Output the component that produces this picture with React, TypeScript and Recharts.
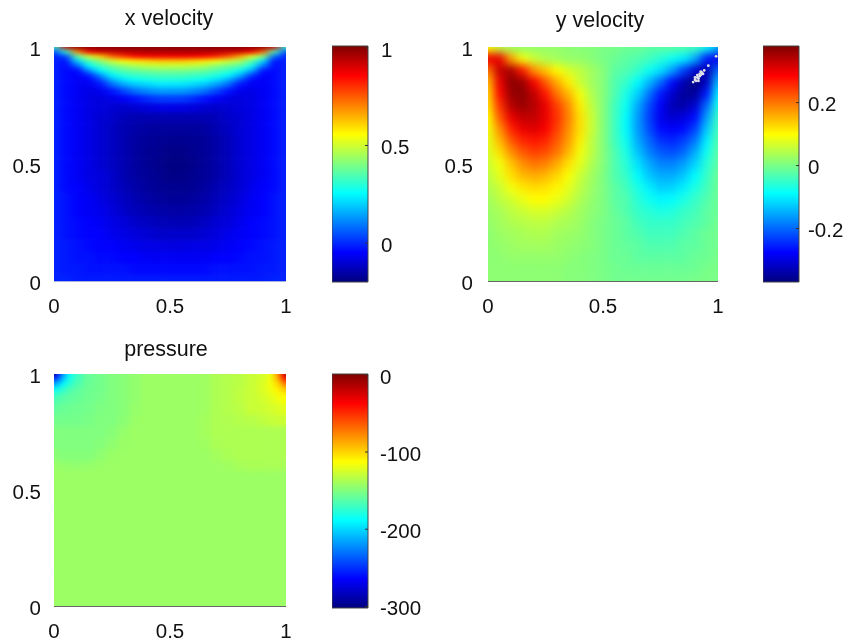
import React from 'react';
import { ScatterChart, Scatter, BarChart, Bar, XAxis, YAxis } from 'recharts';

const FONT = '"Liberation Sans", Arial, sans-serif';

const jetStops: [number, number[]][] = [
  [0, [0, 0, 127]],
  [0.125, [0, 0, 255]],
  [0.375, [0, 255, 255]],
  [0.625, [255, 255, 0]],
  [0.875, [255, 0, 0]],
  [1, [127, 0, 0]],
];

const xVelXs = [0, .05, .1, .15, .2, .25, .3, .35, .4, .45, .5, .55, .6, .65, .7, .75, .8, .85, .9, .95, 1];
const xVelYs = [1, .98, .96, .94, .92, .9, .88, .86, .84, .81, .78, .74, .7, .65, .6, .55, .5, .45, .4, .35, .3, .25, .2, .15, .1, .05, 0];
const xVelRows = [
  [.3, .9, 1, 1, 1, 1, 1, 1, 1, 1, 1, 1, 1, 1, 1, 1, 1, 1, 1, .9, .3],
  [.05, .3, .7, .87, .92, .93, .94, .95, .95, .95, .95, .95, .95, .95, .94, .93, .92, .87, .75, .35, .05],
  [-.01, .03, .36, .5, .62, .74, .8, .85, .87, .87, .87, .87, .87, .85, .82, .76, .67, .52, .42, .08, -.01],
  [-.01, -.03, .2, .34, .42, .5, .55, .58, .6, .62, .62, .62, .6, .58, .54, .5, .46, .36, .22, -.03, -.01],
  [-.01, -.04, .06, .25, .33, .39, .43, .46, .48, .49, .49, .49, .48, .46, .42, .39, .36, .28, .1, -.04, -.01],
  [-.01, -.04, -.04, .12, .25, .32, .36, .38, .39, .4, .4, .4, .39, .38, .35, .32, .27, .17, -.02, -.04, -.01],
  [-.01, -.04, -.05, -.01, .13, .25, .3, .32, .33, .34, .34, .34, .33, .32, .29, .25, .17, .03, -.05, -.04, -.01],
  [-.01, -.04, -.06, -.05, .03, .16, .23, .26, .28, .29, .29, .29, .28, .26, .22, .16, .06, -.04, -.06, -.04, -.01],
  [-.01, -.04, -.06, -.07, -.03, .07, .14, .18, .2, .22, .22, .22, .2, .18, .13, .07, -.03, -.06, -.06, -.04, -.01],
  [-.01, -.04, -.06, -.08, -.07, -.03, .03, .08, .11, .13, .13, .13, .11, .08, .03, -.03, -.07, -.08, -.06, -.04, -.01],
  [-.01, -.04, -.06, -.08, -.09, -.08, -.06, -.03, 0, .02, .02, .02, 0, -.03, -.06, -.08, -.09, -.08, -.06, -.04, -.01],
  [-.01, -.04, -.06, -.08, -.09, -.1, -.11, -.1, -.09, -.08, -.08, -.08, -.09, -.1, -.11, -.1, -.09, -.08, -.06, -.04, -.01],
  [-.01, -.04, -.06, -.08, -.1, -.11, -.13, -.14, -.14, -.14, -.14, -.14, -.14, -.14, -.13, -.11, -.1, -.08, -.06, -.04, -.01],
  [-.01, -.04, -.06, -.08, -.1, -.12, -.14, -.15, -.16, -.165, -.165, -.165, -.165, -.16, -.14, -.12, -.1, -.08, -.06, -.04, -.01],
  [-.01, -.04, -.06, -.08, -.1, -.12, -.14, -.16, -.17, -.175, -.18, -.18, -.175, -.17, -.15, -.13, -.1, -.08, -.06, -.04, -.01],
  [-.01, -.04, -.06, -.08, -.1, -.12, -.14, -.16, -.175, -.18, -.19, -.19, -.18, -.17, -.15, -.13, -.1, -.08, -.06, -.04, -.01],
  [-.01, -.04, -.06, -.08, -.1, -.12, -.14, -.16, -.175, -.185, -.195, -.195, -.185, -.17, -.15, -.13, -.1, -.08, -.06, -.04, -.01],
  [-.01, -.04, -.06, -.08, -.09, -.11, -.14, -.16, -.17, -.18, -.19, -.19, -.18, -.17, -.15, -.13, -.1, -.08, -.06, -.04, -.01],
  [-.01, -.04, -.05, -.07, -.09, -.11, -.13, -.15, -.165, -.175, -.18, -.18, -.175, -.16, -.14, -.12, -.1, -.07, -.05, -.04, -.01],
  [-.01, -.03, -.05, -.06, -.08, -.1, -.12, -.14, -.155, -.165, -.17, -.17, -.165, -.15, -.13, -.11, -.09, -.06, -.05, -.03, -.01],
  [-.01, -.03, -.05, -.06, -.07, -.09, -.11, -.13, -.14, -.15, -.155, -.155, -.15, -.14, -.12, -.1, -.08, -.06, -.05, -.03, -.01],
  [-.01, -.03, -.04, -.05, -.06, -.08, -.09, -.11, -.12, -.13, -.135, -.135, -.13, -.12, -.1, -.09, -.07, -.05, -.04, -.03, -.01],
  [-.01, -.03, -.04, -.05, -.05, -.07, -.08, -.09, -.1, -.11, -.11, -.11, -.11, -.1, -.09, -.07, -.06, -.05, -.04, -.03, -.01],
  [-.01, -.02, -.03, -.04, -.05, -.05, -.06, -.07, -.08, -.08, -.085, -.085, -.08, -.08, -.07, -.06, -.05, -.04, -.03, -.02, -.01],
  [-.01, -.02, -.03, -.03, -.04, -.04, -.05, -.05, -.06, -.06, -.06, -.06, -.06, -.06, -.05, -.05, -.04, -.03, -.03, -.02, -.01],
  [-.01, -.02, -.02, -.03, -.03, -.03, -.03, -.04, -.04, -.04, -.04, -.04, -.04, -.04, -.03, -.03, -.03, -.03, -.02, -.02, -.01],
  [-.01, -.01, -.02, -.02, -.02, -.02, -.02, -.02, -.02, -.02, -.02, -.02, -.02, -.02, -.02, -.02, -.02, -.02, -.02, -.01, -.01],
];

const yVelXs = [0, .05, .1, .15, .2, .25, .3, .35, .4, .45, .5, .55, .6, .65, .7, .75, .8, .85, .9, .95, 1];
const yVelYs = [1, .95, .9, .85, .8, .75, .7, .65, .6, .55, .5, .45, .4, .35, .3, .25, .2, .15, .1, .05, 0];
const yVelRows = [
  [.1, .05, .03, .02, .02, .02, .02, .015, .01, .01, 0, 0, -.01, -.01, -.02, -.02, -.02, -.03, -.04, -.08, -.15],
  [.3, .3, .17, .09, .06, .04, .03, .02, .02, .01, 0, -.01, -.02, -.03, -.04, -.06, -.08, -.1, -.15, -.26, -.3],
  [.2, .33, .35, .27, .18, .14, .1, .07, .05, .03, .01, -.02, -.03, -.05, -.08, -.11, -.16, -.23, -.31, -.34, -.2],
  [.15, .3, .37, .36, .29, .22, .16, .11, .06, .03, .01, -.03, -.05, -.09, -.14, -.2, -.27, -.33, -.37, -.32, -.14],
  [.13, .28, .36, .37, .33, .27, .2, .15, .09, .04, .01, -.03, -.07, -.12, -.19, -.26, -.31, -.35, -.35, -.26, -.1],
  [.12, .25, .34, .36, .34, .3, .24, .18, .11, .05, .01, -.04, -.08, -.15, -.22, -.28, -.33, -.34, -.31, -.2, -.07],
  [.1, .22, .3, .33, .33, .3, .25, .19, .12, .06, .01, -.04, -.09, -.16, -.23, -.29, -.31, -.3, -.27, -.16, -.05],
  [.09, .18, .26, .3, .31, .29, .24, .18, .12, .06, .01, -.04, -.09, -.16, -.22, -.27, -.28, -.27, -.23, -.13, -.04],
  [.08, .15, .22, .26, .27, .26, .22, .17, .11, .05, .01, -.04, -.08, -.15, -.2, -.24, -.25, -.23, -.19, -.1, -.03],
  [.07, .12, .18, .22, .24, .23, .2, .15, .09, .05, .01, -.03, -.07, -.13, -.18, -.21, -.22, -.2, -.15, -.08, -.02],
  [.06, .09, .14, .18, .2, .19, .16, .12, .08, .04, .01, -.03, -.06, -.11, -.15, -.18, -.18, -.16, -.12, -.06, -.02],
  [.05, .08, .12, .15, .16, .15, .13, .095, .06, .03, .005, -.03, -.05, -.09, -.13, -.15, -.15, -.13, -.09, -.05, -.01],
  [.04, .06, .09, .115, .125, .12, .105, .08, .05, .025, .005, -.02, -.04, -.07, -.1, -.125, -.12, -.1, -.07, -.04, -.01],
  [.03, .05, .065, .085, .1, .1, .085, .065, .04, .02, .005, -.02, -.03, -.06, -.08, -.095, -.09, -.07, -.05, -.03, -.01],
  [.025, .035, .05, .06, .07, .07, .06, .045, .03, .015, .005, -.015, -.03, -.05, -.06, -.07, -.065, -.05, -.04, -.02, -.01],
  [.02, .03, .04, .045, .05, .05, .04, .035, .025, .01, 0, -.01, -.02, -.04, -.05, -.05, -.05, -.04, -.03, -.02, -.005],
  [.015, .025, .03, .035, .04, .04, .03, .025, .02, .01, 0, -.01, -.02, -.03, -.04, -.04, -.04, -.03, -.02, -.01, -.005],
  [.015, .02, .025, .03, .03, .03, .025, .02, .015, .01, 0, -.01, -.015, -.02, -.03, -.03, -.03, -.02, -.02, -.01, -.005],
  [.015, .015, .02, .02, .02, .02, .02, .015, .01, .005, 0, -.01, -.01, -.02, -.02, -.02, -.02, -.02, -.01, -.01, 0],
  [.015, .015, .015, .015, .015, .015, .015, .01, .01, .005, 0, -.005, -.01, -.01, -.01, -.01, -.01, -.01, -.01, 0, 0],
  [.015, .015, .015, .015, .015, .015, .015, .01, .01, .005, 0, -.005, -.005, -.005, -.005, -.005, -.005, -.005, 0, 0, 0],
];

// the white speckle in the top right corner of the y velocity plot
const speckleXs = [.892, .9, .905, .91, .915, .92, .92, .925, .93, .935, .94, .9, .915, .925, .91, .958, .992];
const speckleYs = [.85, .86, .855, .87, .865, .875, .885, .88, .89, .885, .9, .87, .855, .895, .88, .92, .96];

const pressureXs = [0, .02, .04, .07, .1, .15, .2, .25, .3, .35, .4, .5, .6, .65, .7, .75, .8, .85, .9, .93, .96, .98, 1];
const pressureYs = [1, .98, .96, .93, .9, .85, .8, .75, .7, .65, .6, .57, .3, 0];
const pressureRows = [
  [-295, -255, -215, -185, -170, -158, -154, -150, -148, -145, -142, -142, -142, -141, -137, -135, -133, -129, -125, -118, -90, -50, -12],
  [-255, -235, -205, -182, -168, -158, -154, -150, -148, -145, -142, -142, -142, -141, -137, -135, -133, -129, -125, -118, -95, -65, -35],
  [-215, -205, -190, -175, -165, -157, -154, -150, -148, -145, -142, -142, -142, -141, -137, -135, -133, -129, -124, -116, -104, -88, -70],
  [-185, -180, -172, -165, -160, -156, -154, -150, -148, -145, -142, -142, -142, -141, -137, -135, -132, -129, -124, -118, -110, -104, -98],
  [-168, -165, -162, -160, -158, -155, -153, -150, -148, -145, -142, -142, -142, -141, -137, -135, -132, -129, -126, -122, -118, -114, -112],
  [-160, -158, -157, -156, -155, -154, -151, -150, -148, -144, -142, -142, -142, -141, -137, -135, -133, -129, -128, -126, -124, -122, -120],
  [-154, -154, -154, -154, -154, -152, -150, -150, -147, -143, -142, -142, -142, -140, -137, -136, -135, -134, -132, -130, -129, -128, -128],
  [-150, -150, -150, -150, -150, -150, -150, -148, -144, -142, -142, -142, -142, -140, -137, -137, -137, -137, -137, -137, -137, -137, -137],
  [-150, -150, -150, -150, -150, -150, -149, -146, -143, -142, -142, -142, -142, -141, -138, -137, -137, -137, -137, -137, -137, -137, -137],
  [-147, -148, -149, -149, -149, -149, -146, -143, -142, -142, -142, -142, -142, -142, -140, -138, -137, -137, -137, -137, -137, -137, -137],
  [-143, -144, -144, -145, -145, -144, -143, -142, -142, -142, -142, -142, -142, -142, -142, -141, -139, -138, -138, -138, -138, -138, -139],
  [-142, -142, -142, -142, -142, -142, -142, -142, -142, -142, -142, -142, -142, -142, -142, -142, -142, -142, -142, -142, -142, -142, -142],
  [-142, -142, -142, -142, -142, -142, -142, -142, -142, -142, -142, -142, -142, -142, -142, -142, -142, -142, -142, -142, -142, -142, -142],
  [-142, -142, -142, -142, -142, -142, -142, -142, -142, -142, -142, -142, -142, -142, -142, -142, -142, -142, -142, -142, -142, -142, -142],
];

const axisTicks = [0, 0.5, 1];
const xVelBarTicks = [0, 0.5, 1];
const yVelBarTicks = [-0.2, 0, 0.2];
const pressureBarTicks = [-300, -200, -100, 0];

function jetColor(t: number) {
  const v = Math.max(0, Math.min(1, t));
  for (let i = 1; i < jetStops.length; i++) {
    const [t0, c0] = jetStops[i - 1];
    const [t1, c1] = jetStops[i];
    if (v <= t1) {
      const f = (v - t0) / (t1 - t0);
      const mix = c0.map((c, k) => Math.round(c + (c1[k] - c) * f));
      return `rgb(${mix.join(',')})`;
    }
  }
  return 'rgb(127,0,0)';
}

function buildCells(xs: number[], ys: number[], rows: number[][]) {
  const pad = 0.15; // edge cells run past the plot so the blur keeps a hard edge
  const cells: Record<string, number>[] = [];
  ys.forEach((y, r) => {
    xs.forEach((x, c) => {
      cells.push({
        x,
        y,
        value: rows[r][c],
        x0: c === 0 ? -pad : (xs[c - 1] + x) / 2,
        x1: c === xs.length - 1 ? 1 + pad : (x + xs[c + 1]) / 2,
        y1: r === 0 ? 1 + pad : (ys[r - 1] + y) / 2,
        y0: r === ys.length - 1 ? -pad : (y + ys[r + 1]) / 2,
      });
    });
  });
  return cells;
}

const tickStyle = { fontSize: 20.5, fontFamily: FONT, fill: '#111' };
const sideTickStyle = { ...tickStyle, dy: 1.5 };

interface HeatPanelProps {
  id: string;
  title: string;
  left: number;
  top: number;
  titleX: number;
  titleY: number;
  plotLeft: number;
  plotTop: number;
  plotW: number;
  plotH: number;
  height: number;
  xs: number[];
  ys: number[];
  rows: number[][];
  lo: number;
  hi: number;
  blur: string;
  axisColor: string;
  yGap: number;
  speckle?: { x: number; y: number }[];
}

function HeatPanel(p: HeatPanelProps) {
  const width = 320;
  const cells = buildCells(p.xs, p.ys, p.rows);
  const shape = (s: any) => {
    const d = s.payload;
    const x = s.cx - (d.x - d.x0) * p.plotW;
    const y = s.cy - (d.y1 - d.y) * p.plotH;
    return (
      <rect
        x={x}
        y={y}
        width={(d.x1 - d.x0) * p.plotW + 0.6}
        height={(d.y1 - d.y0) * p.plotH + 0.6}
        fill={jetColor((d.value - p.lo) / (p.hi - p.lo))}
      />
    );
  };
  return (
    <div style={{ position: 'absolute', left: p.left, top: p.top }} className={p.id}>
      <style>{`.${p.id} .heat{filter:url(#${p.id}-blur);clip-path:url(#${p.id}-clip)}`}</style>
      <ScatterChart
        width={width}
        height={p.height}
        margin={{ top: p.plotTop, left: 0, right: width - p.plotLeft - p.plotW, bottom: 0 }}
      >
        <defs>
          <filter id={`${p.id}-blur`} filterUnits="userSpaceOnUse" x="-100" y="-100" width="600" height="600" colorInterpolationFilters="sRGB">
            <feGaussianBlur stdDeviation={p.blur} />
          </filter>
          <clipPath id={`${p.id}-clip`}>
            <rect x={p.plotLeft} y={p.plotTop} width={p.plotW} height={p.plotH} />
          </clipPath>
        </defs>
        <text x={p.titleX} y={p.titleY} textAnchor="middle" fontSize={21.5} fontFamily={FONT} fill="#111">{p.title}</text>
        <XAxis
          dataKey="x"
          type="number"
          domain={[0, 1]}
          ticks={axisTicks}
          interval={0}
          height={p.height - p.plotTop - p.plotH}
          tick={tickStyle}
          tickLine={false}
          tickMargin={11}
          axisLine={{ stroke: p.axisColor, strokeWidth: 1.5 }}
        />
        <YAxis
          dataKey="y"
          type="number"
          domain={[0, 1]}
          ticks={axisTicks}
          interval={0}
          width={p.plotLeft}
          tick={sideTickStyle}
          tickLine={false}
          tickMargin={p.yGap}
          axisLine={false}
        />
        <Scatter className="heat" data={cells} shape={shape} isAnimationActive={false} />
        {p.speckle && (
          <Scatter
            data={p.speckle}
            shape={(s: any) => <circle cx={s.cx} cy={s.cy} r={1.4} fill="#e0e0ea" />}
            isAnimationActive={false}
          />
        )}
      </ScatterChart>
    </div>
  );
}

interface ColorBarProps {
  id: string;
  left: number;
  top: number;
  barW: number;
  barH: number;
  lo: number;
  hi: number;
  ticks: number[];
  gap: number;
}

function ColorBar({ id, left, top, barW, barH, lo, hi, ticks, gap }: ColorBarProps) {
  const pad = 14;
  const data = [{ name: 'bar', range: [lo, hi] }];
  return (
    <div style={{ position: 'absolute', left, top: top - pad }}>
      <BarChart
        width={barW + 62}
        height={barH + pad * 2}
        data={data}
        margin={{ top: pad, bottom: pad, left: 0, right: 0 }}
        barCategoryGap={0}
      >
        <defs>
          <linearGradient id={id} x1="0" y1="1" x2="0" y2="0">
            {jetStops.map(([t, c]) => (
              <stop key={t} offset={t} stopColor={`rgb(${c.join(',')})`} />
            ))}
          </linearGradient>
        </defs>
        <XAxis dataKey="name" hide />
        <YAxis
          orientation="right"
          type="number"
          domain={[lo, hi]}
          ticks={ticks}
          interval={0}
          width={62}
          tick={sideTickStyle}
          tickSize={-3}
          tickMargin={gap}
          tickLine={{ stroke: '#333' }}
          axisLine={false}
        />
        <Bar dataKey="range" fill={`url(#${id})`} stroke="#444" strokeWidth={1} isAnimationActive={false} />
      </BarChart>
    </div>
  );
}

export default function App() {
  const speckle = speckleXs.map((x, i) => ({ x, y: speckleYs[i] }));
  return (
    <div style={{ position: 'absolute', left: 0, top: 0, width: 850, height: 642, background: '#fff', overflow: 'hidden', filter: 'blur(0.5px)' }}>
      <HeatPanel
        id="xvel" title="x velocity" left={0} top={0} titleX={169} titleY={25}
        plotLeft={54} plotTop={47} plotW={232} plotH={234} height={320}
        xs={xVelXs} ys={xVelYs} rows={xVelRows} lo={-0.2} hi={1.01} blur="5 2.2" axisColor="#8899cc" yGap={7}
      />
      <ColorBar id="cb1" left={332} top={46} barW={36} barH={236} lo={-0.2} hi={1.01} ticks={xVelBarTicks} gap={16} />
      <HeatPanel
        id="yvel" title="y velocity" left={425} top={0} titleX={175} titleY={27}
        plotLeft={63} plotTop={47} plotW={230} plotH={234} height={320}
        xs={yVelXs} ys={yVelYs} rows={yVelRows} lo={-0.37} hi={0.38} blur="4" axisColor="#333" yGap={9}
        speckle={speckle}
      />
      <ColorBar id="cb2" left={763} top={46} barW={36} barH={236} lo={-0.37} hi={0.38} ticks={yVelBarTicks} gap={12} />
      <HeatPanel
        id="pres" title="pressure" left={0} top={322} titleX={166} titleY={34}
        plotLeft={54} plotTop={52} plotW={232} plotH={232} height={320}
        xs={pressureXs} ys={pressureYs} rows={pressureRows} lo={-302} hi={1} blur="2.5" axisColor="#333" yGap={7}
      />
      <ColorBar id="cb3" left={332} top={374} barW={36} barH={234} lo={-302} hi={1} ticks={pressureBarTicks} gap={15} />
    </div>
  );
}
